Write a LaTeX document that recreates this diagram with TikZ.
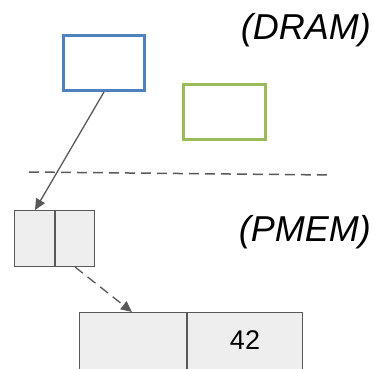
\documentclass[tikz,border=0pt]{standalone}
\usepackage{fontspec}
\setmainfont{Liberation Sans}
\usetikzlibrary{arrows.meta}
\definecolor{dblue}{HTML}{4F81BD}
\definecolor{dgreen}{HTML}{9BBB59}
\definecolor{lgray}{HTML}{EEEEEE}
\definecolor{dgray}{HTML}{595959}
\begin{document}
\begin{tikzpicture}[x=1pt,y=-1pt,
  dramcell/.style={draw, line width=3pt, outer sep=0pt, minimum height=55pt, inner sep=0pt, anchor=north west},
  pcell/.style={draw=dgray, fill=lgray, line width=1.5pt, outer sep=0pt, inner sep=0pt, anchor=north west},
  lbl/.style={font=\fontsize{36}{40}\selectfont\itshape, anchor=east, inner sep=0pt},
  conn/.style={draw=dgray, line width=1.3pt, -{Triangle[length=11pt,width=10pt]}}]
\useasboundingbox (0,0) rectangle (374,368);
\begin{scope}
\clip (0,0) rectangle (374,368);
\node[dramcell, draw=dblue, minimum width=81pt] (blue) at (63.5,35.5) {};
\node[dramcell, draw=dgreen, minimum width=82pt] (green) at (183.5,84.5) {};
\node[lbl] (dram) at (371,30) {(DRAM)};
\node[lbl] (pmem) at (371,232) {(PMEM)};
\coordinate (dl) at (29,172);
\coordinate (dr) at (331,175);
\draw[dgray, line width=1.5pt, dash pattern=on 10pt off 6pt] (dl) -- (dr);
\node[pcell, minimum width=40.5pt, minimum height=56pt] (s1) at (14.5,210.5) {};
\node[pcell, minimum width=39.5pt, minimum height=56pt] (s2) at (55,210.5) {};
\node[pcell, minimum width=107.5pt, minimum height=80pt] (b1) at (79.5,312.5) {};
\node[pcell, minimum width=115.5pt, minimum height=80pt] (b2) at (187,312.5) {};
\node[font=\fontsize{27}{30}\selectfont] (v) at (245,340) {42};
\coordinate (a1) at (104,92);
\coordinate (t1) at (35,210);
\draw[conn] (a1) -- (t1);
\coordinate (a2) at (75,267);
\coordinate (t2) at (132,312);
\draw[conn, dash pattern=on 10pt off 6pt] (a2) -- (t2);
\end{scope}
\end{tikzpicture}
\end{document}
